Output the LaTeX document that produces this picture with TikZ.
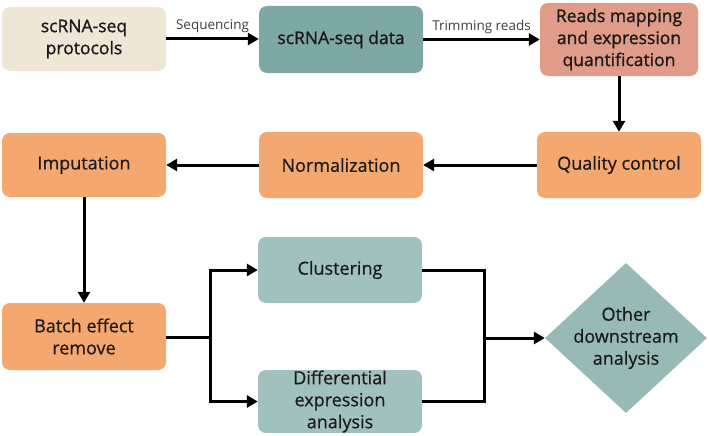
\documentclass[tikz,border=0pt]{standalone}
\usepackage{fontspec}
\setmainfont{Open Sans}
\newfontfamily\semifont[FakeBold=1.2]{Open Sans}
\newfontfamily\midfont[FakeBold=0.5]{Open Sans}
\usetikzlibrary{arrows.meta,shapes.geometric}
\definecolor{protcol}{HTML}{F0E6D6}
\definecolor{datacol}{HTML}{7EA8A5}
\definecolor{readscol}{HTML}{E19B89}
\definecolor{stepcol}{HTML}{F4A870}
\definecolor{anacol}{HTML}{A1C1BF}
\definecolor{othercol}{HTML}{97BAB7}
\definecolor{txtcol}{HTML}{1A1A1A}
\definecolor{lblcol}{HTML}{404040}

\begin{document}
\begin{tikzpicture}[x=1pt,y=-1pt,
  box/.style={rounded corners=8pt, align=center, inner sep=0pt,
    minimum width=164pt, minimum height=66pt, text=txtcol,
    font=\midfont\fontsize{18}{22}\selectfont},
  topbox/.style={box, font=\semifont\fontsize{17.5}{22}\selectfont},
  arr/.style={line width=3pt, -{Triangle[length=11pt,width=12pt]}},
  con/.style={line width=3pt},
  lbl/.style={font=\fontsize{13.5}{15}\selectfont, text=lblcol}]
  \useasboundingbox (0,0) rectangle (709,436);

  \node[topbox, fill=protcol, minimum height=64pt] (prot) at (84,39) {scRNA-seq\\protocols};
  \node[topbox, fill=datacol, minimum height=67pt] (data) at (341,39.5) {scRNA-seq data};
  \node[topbox, fill=readscol, minimum width=158pt, minimum height=73pt] (reads) at (619,39.5)
    {Reads mapping\\and expression\\quantification};
  \node[box, fill=stepcol] (qc) at (619,165) {Quality control};
  \node[box, fill=stepcol] (norm) at (341,165) {Normalization};
  \node[box, fill=stepcol, minimum height=64pt] (imp) at (84,165) {Imputation};
  \node[box, fill=stepcol, minimum height=67pt] (batch) at (84,336.5) {Batch effect\\remove};
  \node[box, fill=anacol] (clus) at (340,270) {Clustering};
  \node[box, fill=anacol, minimum height=63pt] (diff) at (340,401.5)
    {Differential\\expression\\analysis};
  \node[diamond, fill=othercol, inner sep=0pt, minimum width=162pt, minimum height=150pt,
    label={[align=center, text=txtcol, font=\midfont\fontsize{18}{22}\selectfont]center:Other\\downstream\\analysis}]
    (other) at (626,338) {};

  \coordinate (split) at (210,337);
  \coordinate (join) at (484,338);

  \draw[arr] (prot.east) -- (prot.east -| data.west) node[midway, above=1pt, lbl] {Sequencing};
  \draw[arr] (data.east) -- (data.east -| reads.west) node[midway, above=1pt, lbl] {Trimming reads};
  \draw[arr] (reads.south) -- (qc.north);
  \draw[arr] (qc.west) -- (norm.east);
  \draw[arr] (norm.west) -- (imp.east);
  \draw[arr] (imp.south) -- (batch.north);
  \draw[con] (batch.east |- split) -- (split);
  \draw[arr] (split) |- (clus.west);
  \draw[arr] (split) |- (diff.west);
  \draw[con] (clus.east) -| (join);
  \draw[con] (diff.east) -| (join);
  \draw[arr] (join) -- (other.west);
\end{tikzpicture}
\end{document}
